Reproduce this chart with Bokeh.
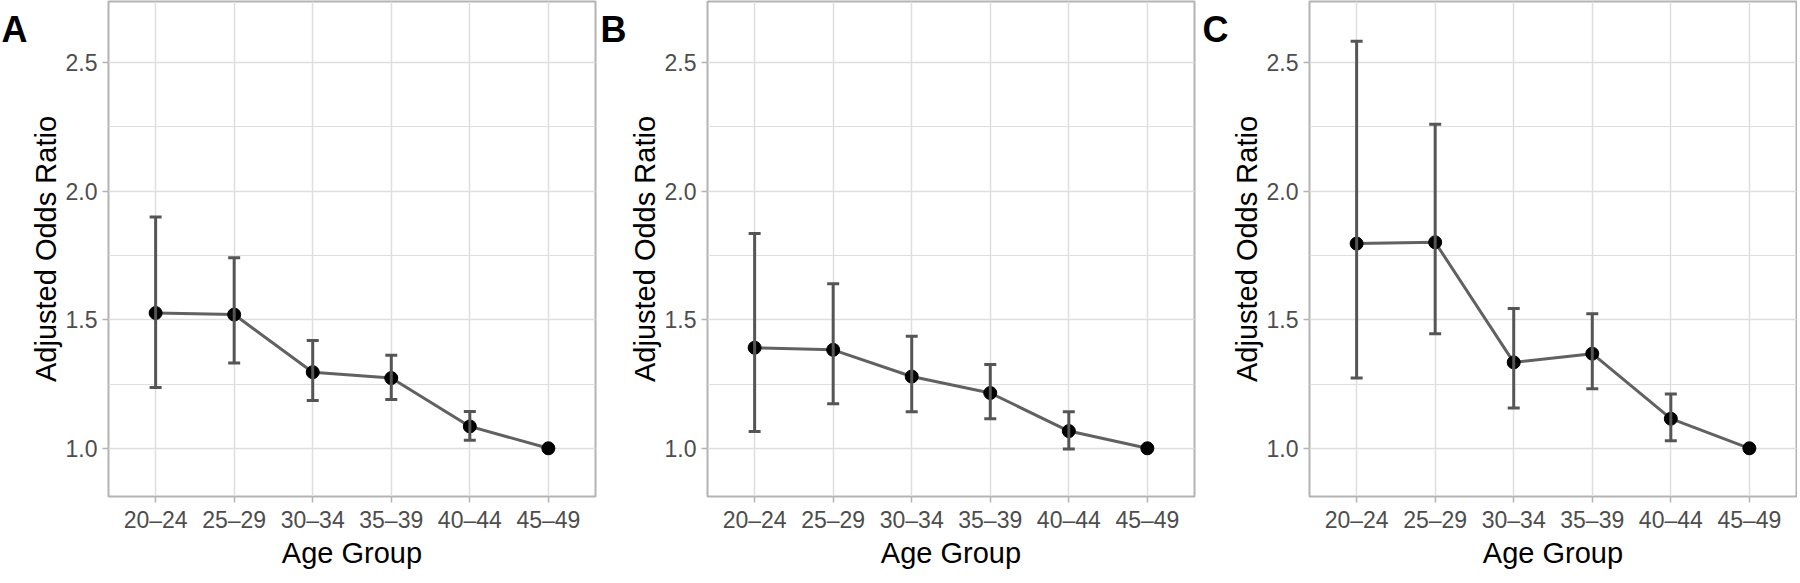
import math
from bokeh.plotting import figure
from bokeh.layouts import row
from bokeh.models import (Range1d, FixedTicker, SingleIntervalTicker, Whisker, TeeHead,
                          ColumnDataSource, Label, PrintfTickFormatter)
from bokeh.embed import file_html
from bokeh.resources import INLINE

nan = float("nan")

# ---------------- data ----------------
age_groups = ["20–24", "25–29", "30–34", "35–39", "40–44", "45–49"]
panel_labels = ["A", "B", "C"]

aor_a = [1.526, 1.520, 1.296, 1.273, 1.085, 1.000]
low_a = [1.236, 1.332, 1.186, 1.190, 1.031, nan]
upp_a = [1.899, 1.741, 1.419, 1.362, 1.143, nan]

aor_b = [1.391, 1.383, 1.279, 1.215, 1.067, 1.000]
low_b = [1.065, 1.173, 1.142, 1.115, 0.997, nan]
upp_b = [1.835, 1.640, 1.436, 1.326, 1.142, nan]

aor_c = [1.796, 1.801, 1.334, 1.368, 1.115, 1.000]
low_c = [1.273, 1.445, 1.157, 1.232, 1.029, nan]
upp_c = [2.583, 2.260, 1.544, 1.523, 1.211, nan]

y_major_ticks = [1.0, 1.5, 2.0, 2.5]
x_title = "Age Group"
y_title = "Adjusted Odds Ratio"

# ---------------- style ----------------
FONT = "Liberation Sans"
FRAME_W = 487
FRAME_H = 495
BORDER_GREY = "#B3B3B3"
GRID_GREY = "#DEDEDE"
Y_MIN, Y_MAX = 0.8125, 2.7375
X_MIN = 0.4


def make_panel(label, est, lo, hi, right_border, label_dx):
    xs = list(range(1, len(age_groups) + 1))
    src = ColumnDataSource(dict(x=xs, est=est, lo=lo, hi=hi))

    p = figure(frame_width=FRAME_W, frame_height=FRAME_H,
               x_range=Range1d(X_MIN, len(age_groups) + 0.6),
               y_range=Range1d(Y_MIN, Y_MAX),
               output_backend="svg", toolbar_location=None,
               min_border_left=0, min_border_right=right_border,
               min_border_top=1, min_border_bottom=0,
               background_fill_color="white", border_fill_color="white")

    p.outline_line_color = BORDER_GREY
    p.outline_line_width = 2

    # x axis
    p.xaxis.ticker = FixedTicker(ticks=xs)
    p.xaxis.major_label_overrides = {i: g for i, g in zip(xs, age_groups)}
    p.xaxis.axis_label = x_title
    # y axis
    p.yaxis.ticker = FixedTicker(ticks=y_major_ticks)
    p.yaxis.formatter = PrintfTickFormatter(format="%.1f")
    p.yaxis.axis_label = y_title

    for ax in (p.xaxis[0], p.yaxis[0]):
        ax.axis_line_color = None
        ax.major_tick_line_color = BORDER_GREY
        ax.major_tick_line_width = 1.5
        ax.major_tick_out = 6
        ax.major_tick_in = 0
        ax.minor_tick_line_color = None
        ax.major_label_text_font = FONT
        ax.major_label_text_font_size = "23px"
        ax.major_label_text_color = "#4D4D4D"
        ax.major_label_standoff = 5
        ax.axis_label_text_font = FONT
        ax.axis_label_text_font_size = "29px"
        ax.axis_label_text_font_style = "normal"
        ax.axis_label_text_color = "black"
        ax.axis_label_standoff = 1
    p.xaxis.major_label_standoff = 4

    p.xgrid.ticker = FixedTicker(ticks=xs)
    p.xgrid.grid_line_color = GRID_GREY
    p.xgrid.grid_line_width = 1.5
    p.ygrid.ticker = SingleIntervalTicker(interval=0.5, num_minor_ticks=2)
    p.ygrid.grid_line_color = GRID_GREY
    p.ygrid.grid_line_width = 1.5
    p.ygrid.minor_grid_line_color = GRID_GREY
    p.ygrid.minor_grid_line_width = 1.0

    # error bars
    w = Whisker(source=src, base="x", lower="lo", upper="hi",
                line_color="#555555", line_width=3,
                upper_head=TeeHead(size=12, line_color="#555555", line_width=3),
                lower_head=TeeHead(size=12, line_color="#555555", line_width=3),
                level="glyph")
    p.add_layout(w)

    p.line("x", "est", source=src, line_color="#616161", line_width=3)
    p.scatter("x", "est", source=src, size=13, fill_color="black", line_color="black")

    # panel letter, placed in the left side panel so it is not clipped to the frame
    lab = Label(x=label_dx, y=FRAME_H - 28, x_units="screen", y_units="screen",
                text=label, text_font=FONT, text_font_size="36px",
                text_font_style="bold", text_color="black",
                text_baseline="alphabetic", text_align="left")
    p.add_layout(lab, "left")
    return p


pa = make_panel(panel_labels[0], aor_a, low_a, upp_a, 4, 1)
pb = make_panel(panel_labels[1], aor_b, low_b, upp_b, 7, 1)
pc = make_panel(panel_labels[2], aor_c, low_c, upp_c, 1, 1)

layout = row(pa, pb, pc)
open("out.html", "w").write(file_html(layout, INLINE))
